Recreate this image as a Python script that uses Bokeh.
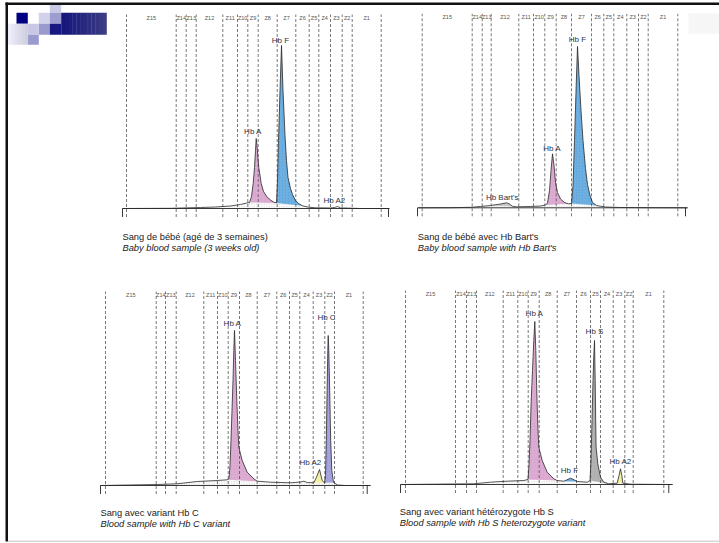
from bokeh.plotting import figure
from bokeh.models import Range1d
from bokeh.embed import file_html
from bokeh.resources import INLINE
from bokeh.core.properties import value

# ---------------- data ----------------
zone_labels = ["Z15", "Z14", "Z13", "Z12", "Z11", "Z10", "Z9", "Z8",
               "Z7", "Z6", "Z5", "Z4", "Z3", "Z2", "Z1"]

# Panel 1 : baby blood sample (3 weeks old)
p1_edges = [0, 49.7, 59.7, 69.7, 96.3, 111, 121.3, 131.7, 150.7, 169.3, 182.7, 192.3, 204, 215.7, 225.7, 254.7]
p1_u = [-4, 20, 44, 74, 89, 104, 114, 120, 123, 125, 126.7, 128, 129, 129.7, 130.5, 131.5, 132.3, 134.7, 137, 140.7,
        144, 147.3, 150, 151, 152, 153.5, 155, 156.5, 158.5, 160, 161.5, 164, 166, 169, 172, 176, 182, 189, 204, 208,
        211, 214, 234, 262]
p1_v = [0, 0.1, 0.2, 1, 1.5, 2.5, 4, 5.5, 6, 12, 25, 41, 58, 70, 63, 50, 41, 25, 17, 11.3,
        8.5, 6.3, 5.5, 28, 68, 118, 163, 118, 73, 48, 31, 20, 14, 8, 5, 2.7, 1.3, 0.7, 0.5, 1,
        2, 0.6, 0, 0]
p1_fills = [("Hb A", 123, 150), ("Hb F", 150, 176)]
p1_lab = ["Hb F", "Hb A", "Hb A2"]
p1_lab_u = [154, 126.5, 208]
p1_lab_v = [168.5, 77.3, 8]
p1_caption = ["Sang de bébé (agé de 3 semaines)", "Baby blood sample (3 weeks old)"]

# Panel 2 : baby blood sample with Hb Bart's
p2_edges = [0, 50, 60, 69, 96.6, 111.3, 122.6, 134, 149.3, 169.3, 181.6, 191.6, 204.6, 216.3, 226, 255.6]
p2_u = [-3.7, 28.3, 48.3, 58.3, 68.3, 78.3, 84.3, 87.3, 90.3, 94.3, 108.3, 118.3, 123.3, 125.3, 127.3, 128.8, 130.3,
        131.8, 133.3, 135.3, 138.3, 142.3, 146.3, 149.3, 150.8, 152.3, 154, 155.3, 156.8, 158.8, 160.8, 163.3, 165.3,
        167.8, 170.3, 174.3, 183.3, 198.3, 228.3, 265.3]
p2_v = [0, 0.1, 0.5, 1.3, 2.3, 3.8, 5, 3.8, 1.5, 1, 1.3, 1.8, 2.8, 4.8, 17.3, 37.3, 54,
        42.3, 25.3, 15.3, 8.8, 5.3, 4, 4.3, 22.3, 67.3, 122.3, 161.3, 132.3, 97.3, 67.3, 39.3, 23.3,
        12.3, 5.3, 2.3, 0.8, 0.3, 0.1, 0]
p2_fills = [("Hb Bart's", 68.3, 90.3), ("Hb A", 123.3, 149.3), ("Hb F", 149.3, 174.3)]
p2_lab = ["Hb F", "Hb A", "Hb Bart's"]
p2_lab_u = [155.3, 130, 80]
p2_lab_v = [168, 59.6, 10.6]
p2_caption = ["Sang de bébé avec Hb Bart's", "Baby blood sample with Hb Bart's"]

# Panel 3 : blood sample with Hb C variant
p3_edges = [0, 50.7, 60, 70.7, 98.3, 112, 122.7, 134, 151.7, 171.3, 184, 194.3, 207.7, 219.3, 229, 257.7]
p3_u = [-5, 51.7, 71.7, 91.7, 111.7, 121.7, 123.5, 124.5, 125.5, 126.5, 127.5, 128.3, 129, 130, 131.3, 132.5, 133.3,
        136.7, 141.7, 148.3, 151.7, 165, 185, 195, 198.3, 201.7, 208.3, 211, 214, 216.7, 219, 220, 220.8, 221.6,
        222.3, 222.7, 223.3, 224.2, 225.2, 226.3, 228, 232, 240, 265]
p3_v = [0, 1, 1.7, 4, 5, 5.7, 7, 20, 45, 75, 105, 135, 155, 125, 85, 55, 38.3,
        25, 13.3, 6.7, 4.3, 3.3, 2.7, 3.5, 4.3, 3, 2.7, 8.3, 16, 5, 2.7, 10, 45, 95,
        135, 150, 135, 95, 45, 15, 3, 0.5, 0, 0]
p3_fills = [("Hb A", 121.7, 151.7), ("Hb A2", 208.3, 219), ("Hb C", 219, 228)]
p3_lab = ["Hb A", "Hb C", "Hb A2"]
p3_lab_u = [127, 221, 205]
p3_lab_v = [162.3, 167.7, 22.7]
p3_caption = ["Sang avec variant Hb C", "Blood sample with Hb C variant"]

# Panel 4 : blood sample with Hb S heterozygote variant
p4_edges = [0, 50, 61, 71, 97.7, 112.3, 122.7, 133.7, 151.7, 171, 185, 195, 207.7, 219.3, 227.7, 258.3]
p4_u = [-5, 68.3, 85, 101.7, 118.3, 122.5, 123.5, 124.5, 125.7, 127, 128.3, 129.3, 130.3, 131.5, 132.5, 133.3, 136.7,
        141.7, 148.3, 151.7, 158.3, 161, 165, 169, 171.7, 181.7, 184.5, 185.5, 186.5, 187.5, 188.3, 189, 189.7,
        190.2, 190.6, 192.3, 195, 198.3, 203.3, 211.7, 213.5, 215, 216.5, 217.3, 225, 267]
p4_v = [0, 0.7, 2.3, 3.3, 4, 5, 19, 44, 84, 114, 144, 163, 134, 84, 54, 37.3, 24,
        12.3, 5.7, 4, 3.3, 4.5, 6.3, 4.5, 3, 2.3, 4, 24, 64, 104, 129, 144, 104,
        64, 37.3, 20.7, 7.3, 2.3, 0.7, 1.3, 9, 15.7, 8, 1.3, 0.3, 0]
p4_fills = [("Hb A", 122.5, 151.7), ("Hb F", 158.3, 171.7), ("Hb S", 184.5, 203.3), ("Hb A2", 211.7, 217.3)]
p4_lab = ["Hb A", "Hb S", "Hb F", "Hb A2"]
p4_lab_u = [129, 189, 164, 215]
p4_lab_v = [170.7, 153, 14, 23]
p4_caption = ["Sang avec variant hétérozygote Hb S", "Blood sample with Hb S heterozygote variant"]

# ---------------- styles ----------------
PEAK_COLORS = {"Hb A": "#d8a2cd", "Hb F": "#5ea6dd", "Hb Bart's": "#c4c4c4",
               "Hb C": "#9c9ad8", "Hb A2": "#eeee9c", "Hb S": "#aaaaaa"}
FONT = value("Liberation Sans")
W, H = 719, 543
X_LO, X_HI = 0, W
Y_TOP, Y_BOT = 0, H

p = figure(width=W, height=H, x_range=Range1d(X_LO, X_HI), y_range=Range1d(Y_BOT, Y_TOP),
           output_backend="svg", toolbar_location=None, min_border=0,
           x_axis_type=None, y_axis_type=None, outline_line_color=None,
           background_fill_color="white", border_fill_color="white")

# ---- slide frame ----
p.quad(left=5, right=7.5, top=2, bottom=541, fill_color="#111111", line_color=None)
p.quad(left=5, right=719, top=2, bottom=4.5, fill_color="#111111", line_color=None)
p.quad(left=7.5, right=719, top=540, bottom=541.5, fill_color="#d8d8d8", line_color=None)

# ---- logo (decorative squares) ----
def quad(l, r, t, b, c):
    p.quad(left=l, right=r, top=t, bottom=b, fill_color=c, line_color=None)

quad(49.3, 60.7, 4.5, 12.3, "#c9c9e6")
quad(16, 27.3, 12.3, 23.3, "#000080")
quad(38.3, 49.3, 12.3, 23.3, "#d2d2ea")
quad(49.3, 60.7, 12.3, 23.3, "#9d9dd0")
quad(38.3, 49.3, 23.3, 34.3, "#9a9acc")
quad(27.3, 38.3, 23.3, 34.3, "#c8c8e6")
quad(27.3, 38.3, 34.3, 44.3, "#9a9ad0")
quad(49.3, 60.7, 23.3, 34.3, "#181880")
steps = 12
for i in range(steps):
    f = i / (steps - 1)
    r = int(0x16 + f * (0x3c - 0x16)); g = r; bl = int(0x7c + f * (0x84 - 0x7c))
    l = 60.7 + i * (106 - 60.7) / steps
    quad(l, l + (106 - 60.7) / steps + 0.3, 12.3, 34.3, "#%02x%02x%02x" % (r, g, bl))
for i in range(6):
    f = i / 5
    c = int(0xec - f * (0xec - 0xd0))
    l = 7.5 + i * (27.3 - 7.5) / 6
    quad(l, l + (27.3 - 7.5) / 6 + 0.3, 23.3, 44.3, "#%02x%02x%02x" % (c, c, min(255, c + 14)))
quad(688, 719, 13, 33, "#f6f6f6")

x_ranges, y_ranges = {}, {}

def panel(key, x0, base, edges, u, v, fills, lab, lab_u, lab_v, caption, cap_x, cap_y,
          base_lo, base_hi, tick_hi):
    xr, yr = "x" + key, "y" + key
    x_ranges[xr] = Range1d(X_LO - x0, X_HI - x0)
    y_ranges[yr] = Range1d(base - Y_BOT, base - Y_TOP)
    kw = dict(x_range_name=xr, y_range_name=yr)
    # stippled area under trace
    p.patch(u, v, fill_color="white", line_color=None, hatch_pattern="dot",
            hatch_color="#c8c8c8", hatch_scale=2.5, hatch_weight=0.5, **kw)
    for name, a, b in fills:
        sel = [(uu, vv) for uu, vv in zip(u, v) if a <= uu <= b]
        p.patch([s[0] for s in sel], [s[1] for s in sel], fill_color=PEAK_COLORS[name],
                line_color=None, hatch_pattern="right_diagonal_line", hatch_color="white",
                hatch_alpha=0.3, hatch_scale=3, hatch_weight=0.5, **kw)
    n = len(edges)
    p.segment(x0=edges, y0=[-8.5] * n, x1=edges, y1=[194] * n, line_color="#555555",
              line_width=0.8, line_dash="3 2", **kw)
    mids = [(edges[i] + edges[i + 1]) / 2 for i in range(n - 1)]
    p.text(x=mids, y=[190.5] * len(mids), text=zone_labels, text_font=FONT, text_font_size="5.5px",
           text_align="center", text_baseline="middle", text_color="#555555", **kw)
    # baseline with end ticks
    p.segment(x0=[base_lo], y0=[0], x1=[base_hi], y1=[0], line_color="#222222", line_width=0.9, **kw)
    p.segment(x0=[base_lo, tick_hi], y0=[0, 0], x1=[base_lo, tick_hi], y1=[-8.5, -8.5],
              line_color="#222222", line_width=0.9, **kw)
    # trace
    p.line(u, v, line_color="#2a2a2a", line_width=0.8, **kw)
    p.text(x=lab_u, y=lab_v, text=lab, text_font=FONT, text_font_size="8px", text_align="center",
           text_baseline="middle", text_color="#2e3448", **kw)
    p.text(x=[cap_x], y=[cap_y], text=[caption[0]], text_font=FONT, text_font_size="9.3px",
           text_align="left", text_baseline="middle", text_color="#222222")
    p.text(x=[cap_x], y=[cap_y + 11], text=[caption[1]], text_font=FONT, text_font_size="9.3px",
           text_font_style="italic", text_align="left", text_baseline="middle", text_color="#222222")

panel("1", 126, 208, p1_edges, p1_u, p1_v, p1_fills, p1_lab, p1_lab_u, p1_lab_v, p1_caption,
      122, 236, -4, 263, 262)
panel("2", 421.7, 207.3, p2_edges, p2_u, p2_v, p2_fills, p2_lab, p2_lab_u, p2_lab_v, p2_caption,
      417.3, 236, -4.7, 265.3, 263.3)
panel("3", 105, 485, p3_edges, p3_u, p3_v, p3_fills, p3_lab, p3_lab_u, p3_lab_v, p3_caption,
      100, 512, -5, 265, 261.7)
panel("4", 405, 484, p4_edges, p4_u, p4_v, p4_fills, p4_lab, p4_lab_u, p4_lab_v, p4_caption,
      399.3, 511.3, -5, 267, 263.3)

p.extra_x_ranges = x_ranges
p.extra_y_ranges = y_ranges

open("out.html", "w").write(file_html(p, INLINE))
